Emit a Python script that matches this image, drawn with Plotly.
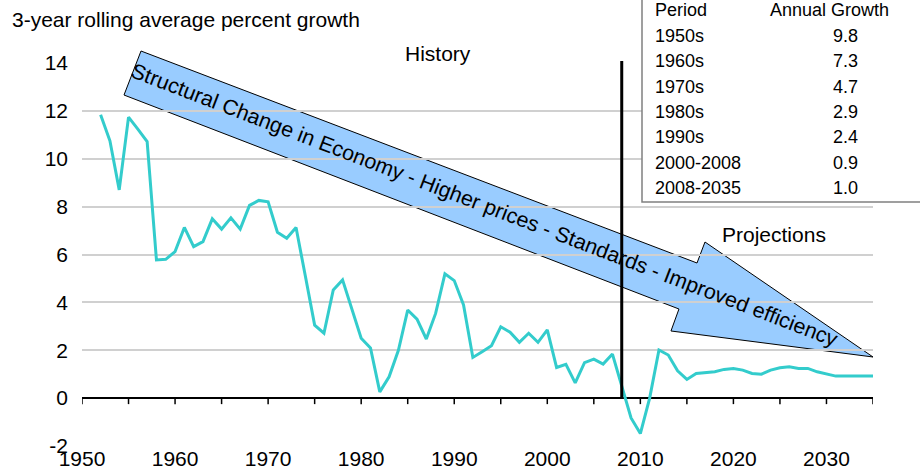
import plotly.graph_objects as go

# ---------------- data ----------------
YEARS = list(range(1952, 2036))
GROWTH = [11.84, 10.75, 8.70, 11.74, 11.24, 10.72, 5.77, 5.80, 6.12, 7.13,
          6.33, 6.54, 7.49, 7.06, 7.53, 7.06, 8.05, 8.26, 8.20, 6.93,
          6.68, 7.13, 5.10, 3.05, 2.71, 4.52, 4.94, 3.70, 2.50, 2.10,
          0.26, 0.89, 2.00, 3.68, 3.30, 2.47, 3.54, 5.19, 4.91, 3.89,
          1.70, 1.94, 2.19, 2.98, 2.75, 2.33, 2.71, 2.33, 2.85, 1.28,
          1.41, 0.64, 1.48, 1.63, 1.42, 1.84, 0.45, -0.83, -1.48, 0.00,
          2.01, 1.80, 1.14, 0.78, 1.03, 1.07, 1.10, 1.20, 1.24, 1.17,
          1.03, 1.00, 1.17, 1.27, 1.31, 1.24, 1.24, 1.10, 1.00, 0.92,
          0.92, 0.92, 0.92, 0.92]

X_TICKS = [1950, 1960, 1970, 1980, 1990, 2000, 2010, 2020, 2030]
MINOR_TICKS = list(range(1950, 2036, 5))
Y_TICKS = [-2, 0, 2, 4, 6, 8, 10, 12, 14]
Y_TICK_LABELS = ["-2", "0", "2", "4", "6", "8", "10", "12", "14"]

PERIODS = ["1950s", "1960s", "1970s", "1980s", "1990s", "2000-2008", "2008-2035"]
RATES = [9.8, 7.3, 4.7, 2.9, 2.4, 0.9, 1.0]

TITLE = "3-year rolling average percent growth"
ARROW_TEXT = "Structural Change in Economy - Higher prices - Standards - Improved efficiency"
SPLIT_YEAR = 2008

# ---------------- geometry helpers ----------------
W, H = 920, 472
ML, MT = 82, 63
PW, PH = 791, 383
MR, MB = W - ML - PW, H - MT - PH
XR = [1950, 2035]
YR = [-2, 14]


def px2paper(vx, vy):
    return (vx - ML) / PW, (H - MB - vy) / PH


def d2paper(xv, yv):
    return (xv - XR[0]) / (XR[1] - XR[0]), (yv - YR[0]) / (YR[1] - YR[0])


FONT = "Liberation Sans, Arial, sans-serif"

fig = go.Figure()
fig.add_trace(go.Scatter(x=YEARS, y=GROWTH, mode="lines",
                         line=dict(color="#33CCCC", width=3),
                         showlegend=False, hoverinfo="skip"))

zero_pos = d2paper(0, 0)[1]
shapes = []
arrow_px = [(141, 51), (697, 263), (705, 242), (873, 357), (671, 331), (679, 309), (124, 95)]
pts = [px2paper(x, y) for x, y in arrow_px]
path = "M " + " L ".join(f"{x:.4f},{y:.4f}" for x, y in pts) + " Z"
shapes.append(dict(type="path", xref="paper", yref="paper", path=path,
                   fillcolor="#99CCFF", line=dict(color="black", width=1),
                   layer="between"))
bx0, by0 = px2paper(642, -10)
bx1, by1 = px2paper(940, 202)
shapes.append(dict(type="rect", xref="paper", yref="paper", x0=bx0, x1=bx1, y0=by1, y1=by0,
                   fillcolor="white", line=dict(color="#808080", width=1.5), layer="above"))
sx, sy0 = d2paper(SPLIT_YEAR, 0)
_, sy1 = px2paper(0, 61)
shapes.append(dict(type="line", xref="paper", yref="paper", x0=sx, x1=sx, y0=sy0, y1=sy1,
                   line=dict(color="black", width=3), layer="above"))
# tick marks hanging below the zero line
for t in MINOR_TICKS:
    shapes.append(dict(type="line", xref="x", yref="paper", x0=t, x1=t,
                       y0=zero_pos, y1=zero_pos - 6 / PH,
                       line=dict(color="black", width=1.5), layer="above"))

annotations = []


def note(vx, vy, text, size, xanchor="center", angle=0):
    x, y = px2paper(vx, vy)
    annotations.append(dict(xref="paper", yref="paper", x=x, y=y, text=text, showarrow=False,
                            xanchor=xanchor, yanchor="middle", textangle=angle,
                            font=dict(size=size, color="black", family=FONT)))


note(10, 19, TITLE, 21, "left")
note(438, 53, "History", 21)
note(774, 234, "Projections", 21)
note(484, 205, ARROW_TEXT, 21.4, angle=21)

row0 = 10.5
step = (188 - row0) / 7
note(653, row0, "Period", 18, "left")
note(829, row0, "Annual Growth", 18)
for i, (p, r) in enumerate(zip(PERIODS, RATES)):
    yy = row0 + step * (i + 1)
    note(653, yy, p, 18, "left")
    note(860, yy, f"{r:.1f}", 18, "right")

fig.update_layout(
    width=W, height=H,
    margin=dict(l=ML, r=MR, t=MT, b=MB, pad=0, autoexpand=False),
    paper_bgcolor="white", plot_bgcolor="white",
    font=dict(family=FONT, size=21, color="black"),
    xaxis=dict(range=XR, tickvals=X_TICKS, ticks="", showline=False, showgrid=False,
               zeroline=False, automargin=False, ticklabelstandoff=-2,
               tickfont=dict(size=21, color="black")),
    yaxis=dict(range=YR, tickvals=Y_TICKS, ticktext=Y_TICK_LABELS, showgrid=True,
               gridcolor="#D0D0D0", gridwidth=1.5, automargin=False, ticklabelstandoff=13,
               zeroline=True, zerolinecolor="black", zerolinewidth=1.5,
               showline=False, ticks="", tickfont=dict(size=21, color="black")),
    shapes=shapes,
    annotations=annotations,
)

fig.write_html("out.html", config={"displayModeBar": False},
               post_script="document.body.style.margin='0';")
